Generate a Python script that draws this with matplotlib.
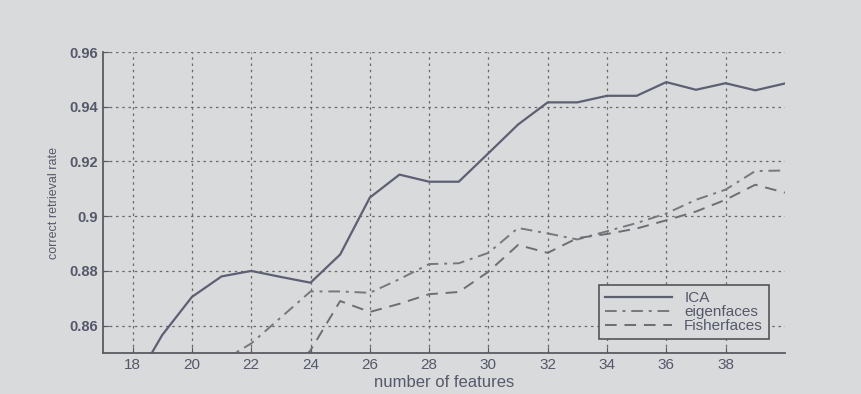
import matplotlib
matplotlib.use("Agg")
import matplotlib.pyplot as plt

plt.rcParams['font.family'] = ['Liberation Sans', 'DejaVu Sans']

ica_x = [18, 19, 20, 21, 22, 23, 24, 25, 26, 27, 28, 29, 30, 31, 32, 33, 34, 35, 36, 37, 38, 39, 40]
ica_y = [0.838, 0.8566, 0.8705, 0.878, 0.880, 0.8778, 0.8757, 0.886, 0.9068, 0.9152, 0.9126, 0.9126,
         0.923, 0.9335, 0.9416, 0.9416, 0.944, 0.944, 0.949, 0.9462, 0.9486, 0.946, 0.9485]

eig_x = [21, 22, 23, 24, 25, 26, 27, 28, 29, 30, 31, 32, 33, 34, 35, 36, 37, 38, 39, 40]
eig_y = [0.847, 0.8535, 0.863, 0.8725, 0.8725, 0.872, 0.877, 0.8825, 0.8828, 0.8866, 0.8957, 0.8937,
         0.8915, 0.8945, 0.8975, 0.901, 0.906, 0.9097, 0.9165, 0.9167]

fis_x = [23, 24, 25, 26, 27, 28, 29, 30, 31, 32, 33, 34, 35, 36, 37, 38, 39, 40]
fis_y = [0.838, 0.851, 0.869, 0.865, 0.868, 0.8715, 0.8723, 0.8797, 0.8895, 0.8866, 0.892, 0.8935,
         0.8955, 0.8985, 0.9017, 0.906, 0.9115, 0.9086]

x_ticks = [18, 20, 22, 24, 26, 28, 30, 32, 34, 36, 38]
y_ticks = [0.86, 0.88, 0.90, 0.92, 0.94, 0.96]
y_tick_labels = ['0.86', '0.88', '0.9', '0.92', '0.94', '0.96']

bg = '#d9dadc'
fig = plt.figure(figsize=(8.61, 3.94), dpi=100, facecolor=bg)
ax = fig.add_axes([0.1196, 0.104, 0.792, 0.764], facecolor=bg)

ax.plot(ica_x, ica_y, '-', color='#5c6072', lw=1.6, label='ICA')
ax.plot(eig_x, eig_y, linestyle=(0, (6, 3, 1.5, 3)), color='#76787e', lw=1.4, label='eigenfaces')
ax.plot(fis_x, fis_y, linestyle=(0, (6, 4)), color='#6c6e74', lw=1.4, label='Fisherfaces')

ax.set_xlim(17, 40)
ax.set_ylim(0.85, 0.96)
ax.set_xticks(x_ticks)
ax.set_yticks(y_ticks)
ax.set_yticklabels(y_tick_labels)

ax.grid(True, linestyle=(0, (2, 3)), color='#6a6a6a', lw=0.9)
for s in ['top', 'right']:
    ax.spines[s].set_visible(False)
for s in ['left', 'bottom']:
    ax.spines[s].set_color('#5a5a60')
    ax.spines[s].set_linewidth(1.3)

ax.tick_params(axis='both', direction='in', length=4, color='#5a5a60',
               labelcolor='#55586a')
ax.tick_params(axis='x', labelsize=11)
ax.tick_params(axis='y', labelsize=10.5)
for lbl in ax.get_yticklabels():
    lbl.set_fontweight('bold')

ax.set_xlabel('number of features', fontsize=12, color='#55586a', labelpad=2)
ax.set_ylabel('correct retrieval rate', fontsize=9, color='#55586a', labelpad=7)

leg = ax.legend(loc='lower right', bbox_to_anchor=(0.988, 0.02), fancybox=False,
                facecolor=bg, edgecolor='#55555a', framealpha=1, fontsize=11,
                handlelength=4.4, handletextpad=0.8, borderpad=0.4,
                labelspacing=0.0)
leg.get_frame().set_linewidth(1.2)
for t in leg.get_texts():
    t.set_color('#55586a')

fig.savefig('out.png', dpi=100, facecolor=bg)
